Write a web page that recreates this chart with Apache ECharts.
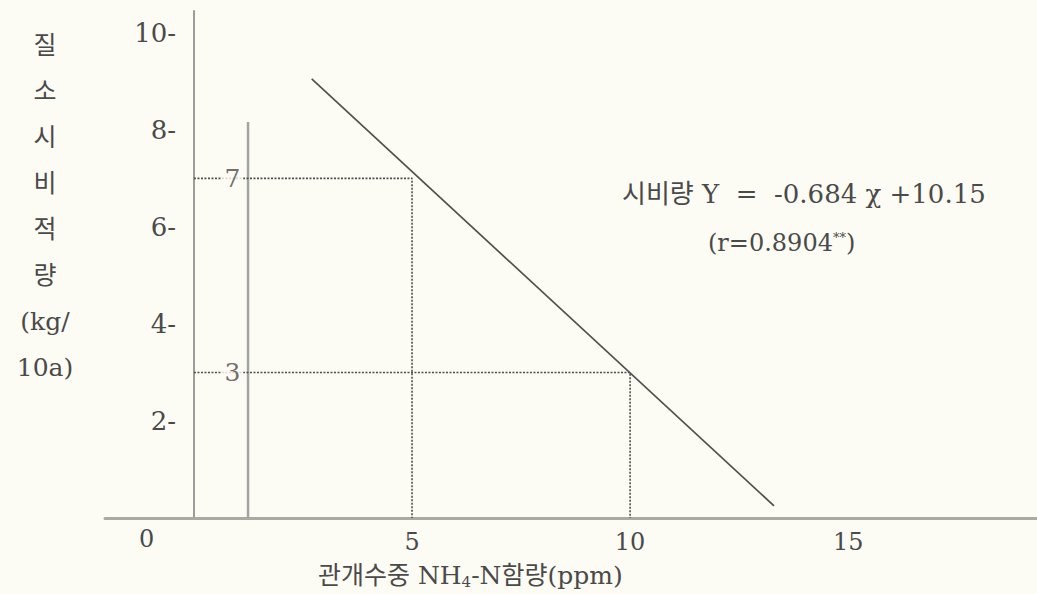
<!DOCTYPE html>
<html>
<head>
<meta charset="utf-8">
<script src="https://cdn.jsdelivr.net/npm/echarts@6/dist/echarts.min.js"></script>
<style>
html,body{margin:0;padding:0;background:#fcfbf4;}
#chart{width:1037px;height:594px;}
</style>
</head>
<body>
<div id="chart"></div>
<script>
// ---- data ----
const xTickValues = [5, 10, 15];
const yTickValues = [2, 4, 6, 8, 10];
const regressionX = [2.7, 13.3];
const regressionY = [9.05, 0.25];
const guideX = [5, 10];          // NH4-N (ppm) read-off points
const guideY = [7, 3];           // 시비량 read-off values
const guideLabels = ['7', '3'];
const guideLabelX = 0.88;
const innerLineX = [1.24, 1.24];
const innerLineY = [0, 8.16];
const yAxisNameLines = ['질', '소', '시', '비', '적', '량', '(kg/', '10a)'];
const equationText = '시비량 Y  =  -0.684 χ +10.15';
const rText = '(r=0.8904';
const rSup = '**';

const BG = '#fcfbf4';
const TXT = '#4a4a4a';
const FONT = "'DejaVu Serif','Noto Sans CJK KR',serif";

const zip = (a, b) => a.map((v, i) => [v, b[i]]);

const guideSeries = guideX.map((gx, i) => ({
  type: 'line',
  data: [[0, guideY[i]], [gx, guideY[i]], [gx, 0]],
  symbol: 'none',
  silent: true,
  lineStyle: { color: '#4e4e4e', width: 1.6, type: [2, 1.5] },
  z: 2
}));

const chart = echarts.init(document.getElementById('chart'), null, { renderer: 'svg' });
chart.setOption({
  backgroundColor: BG,
  animation: false,
  grid: { left: 105, right: 0, top: 11, bottom: 76, containLabel: false },
  xAxis: {
    type: 'value',
    min: -2.04,
    max: 19.33,
    splitLine: { show: false },
    axisTick: { show: false },
    axisLine: { onZero: false, lineStyle: { color: '#a9a9a5', width: 3 } },
    axisLabel: {
      customValues: xTickValues,
      color: TXT,
      fontFamily: FONT,
      fontSize: 24,
      margin: 12
    }
  },
  yAxis: {
    type: 'value',
    min: 0,
    max: 10.45,
    offset: -89,
    splitLine: { show: false },
    axisTick: { show: false },
    axisLine: { onZero: false, lineStyle: { color: '#9c9c98', width: 2 } },
    axisLabel: {
      customValues: yTickValues,
      formatter: v => v + '-',
      color: TXT,
      fontFamily: FONT,
      fontSize: 26,
      margin: 18
    }
  },
  series: [
    {
      type: 'line',
      data: zip(innerLineX, innerLineY),
      symbol: 'none',
      silent: true,
      lineStyle: { color: '#a4a4a0', width: 2.5 },
      z: 1
    },
    ...guideSeries,
    {
      type: 'line',
      data: zip(regressionX, regressionY),
      symbol: 'none',
      silent: true,
      lineStyle: { color: '#505050', width: 1.7 },
      z: 3
    },
    {
      type: 'scatter',
      data: guideY.map((gy, i) => [guideLabelX, gy, guideLabels[i]]),
      symbolSize: 1,
      itemStyle: { color: 'rgba(0,0,0,0)' },
      silent: true,
      z: 4,
      label: {
        show: true,
        position: 'inside',
        formatter: p => p.value[2],
        color: TXT,
        fontFamily: FONT,
        fontSize: 25,
        backgroundColor: BG,
        padding: [0, 3]
      }
    }
  ],
  graphic: [
    {
      type: 'text',
      x: 45,
      y: 22,
      style: {
        text: yAxisNameLines.join('\n'),
        fill: TXT,
        fontFamily: FONT,
        fontSize: 25,
        lineHeight: 46,
        align: 'center',
        verticalAlign: 'top'
      }
    },
    {
      type: 'text',
      left: 139,
      top: 527,
      style: { text: '0', fill: TXT, fontFamily: FONT, fontSize: 24 }
    },
    {
      type: 'text',
      left: 318,
      top: 563,
      style: {
        text: '관개수중 NH{sub|4}-N함량(ppm)',
        fill: TXT,
        fontFamily: FONT,
        fontSize: 25,
        rich: {
          sub: { fontSize: 15, fontFamily: FONT, verticalAlign: 'bottom', padding: [12, 0, 0, 0], fill: TXT }
        }
      }
    },
    {
      type: 'text',
      left: 622,
      top: 181,
      style: { text: equationText, fill: TXT, fontFamily: FONT, fontSize: 26 }
    },
    {
      type: 'text',
      left: 708,
      top: 231,
      style: {
        text: rText + '{sup|' + rSup + '})',
        fill: TXT,
        fontFamily: FONT,
        fontSize: 24,
        rich: {
          sup: { fontSize: 13, fontFamily: FONT, verticalAlign: 'top', padding: [0, 0, 10, 0], fill: TXT }
        }
      }
    }
  ]
});
</script>
</body>
</html>
